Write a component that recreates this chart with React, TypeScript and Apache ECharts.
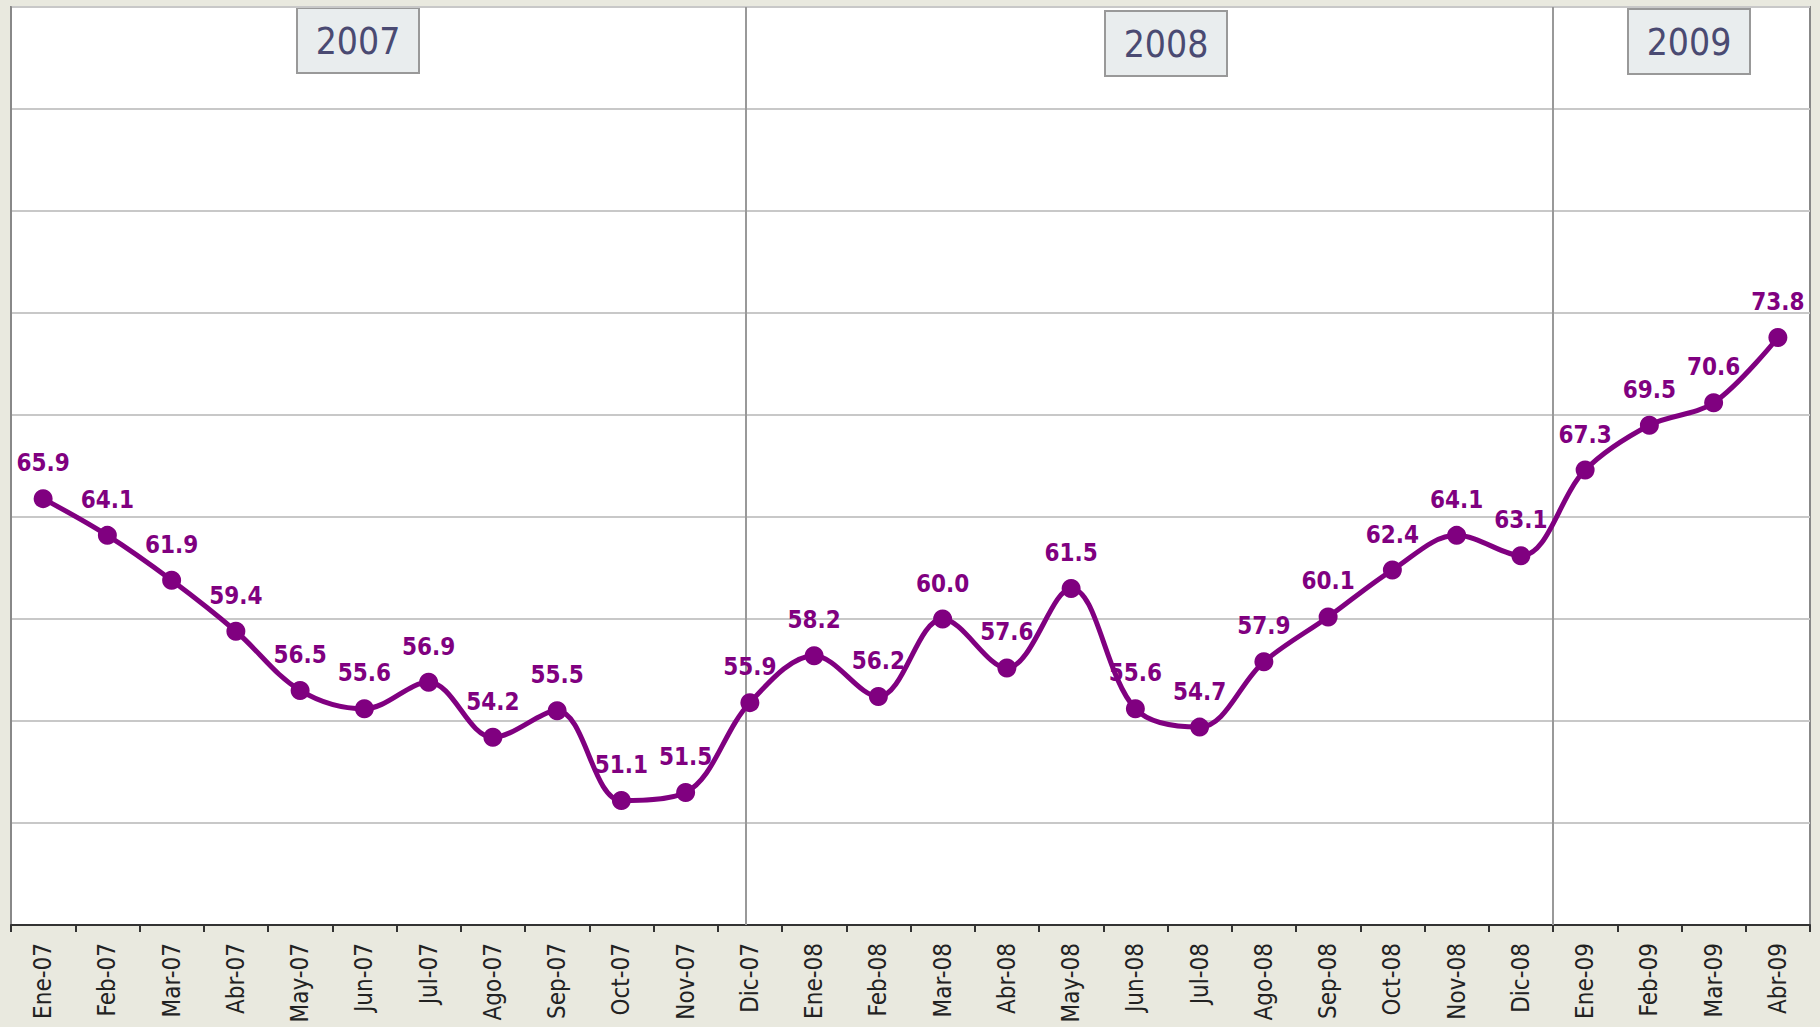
import React, { useEffect, useRef } from "react";
import * as echarts from "echarts";

const categories = [
  "Ene-07", "Feb-07", "Mar-07", "Abr-07", "May-07", "Jun-07", "Jul-07", "Ago-07", "Sep-07", "Oct-07", "Nov-07", "Dic-07",
  "Ene-08", "Feb-08", "Mar-08", "Abr-08", "May-08", "Jun-08", "Jul-08", "Ago-08", "Sep-08", "Oct-08", "Nov-08", "Dic-08",
  "Ene-09", "Feb-09", "Mar-09", "Abr-09",
];
const values = [
  65.9, 64.1, 61.9, 59.4, 56.5, 55.6, 56.9, 54.2, 55.5, 51.1, 51.5, 55.9,
  58.2, 56.2, 60.0, 57.6, 61.5, 55.6, 54.7, 57.9, 60.1, 62.4, 64.1, 63.1,
  67.3, 69.5, 70.6, 73.8,
];
const yearLabels = ["2007", "2008", "2009"];
// separators on a 0..28 scale
const yearSeparators = [11.43, 24];

const FONT = "'DejaVu Sans Condensed', 'DejaVu Sans', sans-serif";

export default function App() {
  const ref = useRef<HTMLDivElement>(null);
  useEffect(() => {
    if (!ref.current) return;
    const chart = echarts.init(ref.current, null, { renderer: "svg" });
    const boxes = [
      { x: 297, y: 8 },
      { x: 1105, y: 11 },
      { x: 1628, y: 9 },
    ];
    const graphic: any[] = [];
    yearLabels.forEach((t, i) => {
      graphic.push({
        type: "group",
        x: boxes[i].x,
        y: boxes[i].y,
        z: 100,
        children: [
          {
            type: "rect",
            shape: { x: 0, y: 0, width: 122, height: 65 },
            style: { fill: "#e9edee", stroke: "#999999", lineWidth: 2 },
          },
          {
            type: "text",
            x: 61,
            y: 33,
            style: {
              text: t,
              fill: "#4a4a72",
              font: `37px ${FONT}`,
              align: "center",
              verticalAlign: "middle",
            },
          },
        ],
      });
    });
    chart.setOption({
      animation: false,
      backgroundColor: "#e9e9df",
      grid: {
        left: 11,
        right: 10,
        top: 7,
        bottom: 102,
        show: true,
        backgroundColor: "#ffffff",
        borderColor: "#888888",
        borderWidth: 2,
      },
      xAxis: [
        {
          type: "category",
          data: categories,
          boundaryGap: true,
          axisLine: { lineStyle: { color: "#333333", width: 2 } },
          axisTick: { show: true, length: 7, lineStyle: { color: "#333333", width: 2 } },
          axisLabel: {
            rotate: 90,
            interval: 0,
            fontSize: 24,
            fontFamily: FONT,
            color: "#222222",
            margin: 18,
          },
        },
        { type: "value", min: 0, max: 28, show: false },
      ],
      yAxis: {
        type: "value",
        min: 45,
        max: 90,
        interval: 5,
        axisLabel: { show: false },
        axisTick: { show: false },
        axisLine: { show: true, lineStyle: { color: "#888888", width: 2 } },
        splitLine: { lineStyle: { color: "#c8c8c8", width: 2 } },
      },
      graphic,
      series: [
        {
          type: "line",
          xAxisIndex: 1,
          data: [],
          markLine: {
            silent: true,
            symbol: "none",
            label: { show: false },
            lineStyle: { color: "#999999", width: 2, type: "solid" },
            data: yearSeparators.map((v) => ({ xAxis: v })),
          },
        },
        {
          type: "line",
          data: values,
          smooth: 0.35,
          symbol: "circle",
          symbolSize: 19,
          lineStyle: { color: "#800080", width: 5 },
          itemStyle: { color: "#800080" },
          label: {
            show: true,
            position: "top",
            distance: 14,
            fontSize: 24,
            fontWeight: "bold",
            fontFamily: FONT,
            color: "#800080",
            formatter: (p: any) => Number(p.value).toFixed(1),
          },
          z: 10,
        },
      ],
    });
    return () => chart.dispose();
  }, []);
  return (
    <div
      ref={ref}
      style={{ position: "fixed", left: 0, top: 0, width: 1820, height: 1027 }}
    />
  );
}
